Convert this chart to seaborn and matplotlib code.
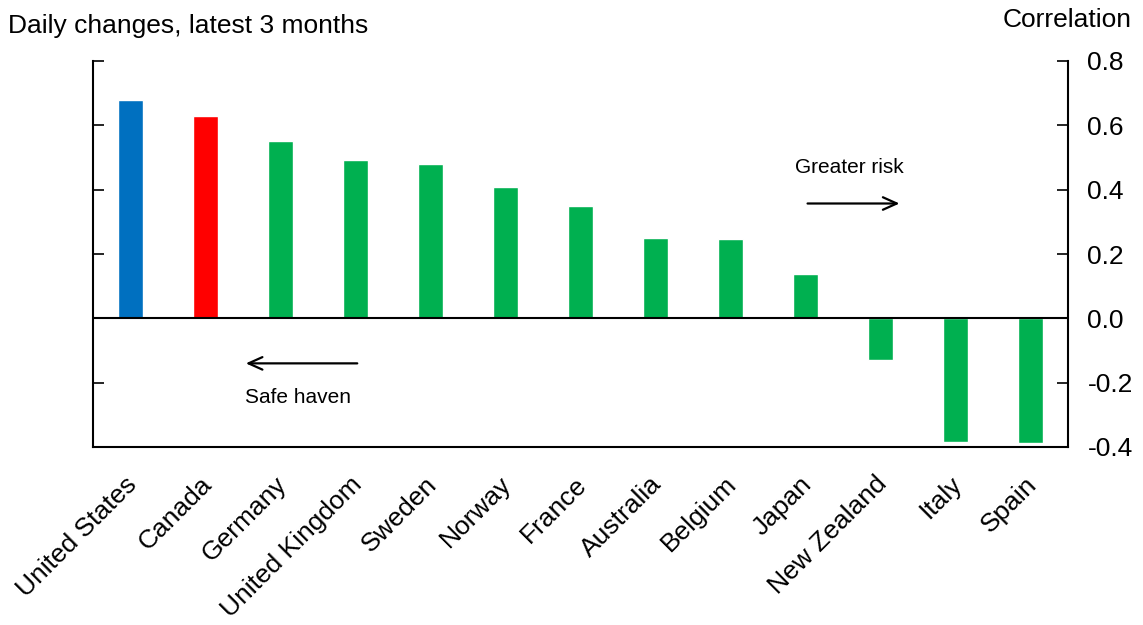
import matplotlib
matplotlib.use("Agg")
import matplotlib.pyplot as plt
import matplotlib.transforms as mtransforms
import seaborn as sns
import pandas as pd

countries = ["United States", "Canada", "Germany", "United Kingdom", "Sweden", "Norway",
             "France", "Australia", "Belgium", "Japan", "New Zealand", "Italy", "Spain"]
correlation = [0.678, 0.628, 0.550, 0.491, 0.479, 0.407, 0.348, 0.249, 0.246, 0.137,
               -0.131, -0.385, -0.389]
group = ["us", "ca"] + ["other"] * 11
palette = {"us": "#0070C0", "ca": "#FF0000", "other": "#00B050"}

df = pd.DataFrame({"Country": countries, "Correlation": correlation, "Group": group})

sns.set_style("white")
plt.rcParams["font.family"] = ["Liberation Sans", "DejaVu Sans"]
plt.rcParams["text.color"] = "black"
plt.rcParams["xtick.color"] = "black"
plt.rcParams["ytick.color"] = "black"

fig = plt.figure(figsize=(11.43, 6.25), dpi=100)
ax = fig.add_axes([0.0814, 0.2848, 0.8530, 0.6176])

sns.barplot(data=df, x="Country", y="Correlation", hue="Group", palette=palette,
            dodge=False, width=0.33, legend=False, ax=ax, saturation=1)

ax.set_ylim(-0.4, 0.8)
ax.set_xlim(-0.5, len(countries) - 0.5)
ax.set_xlabel("")
ax.set_ylabel("")
ax.axhline(0, color="black", linewidth=1.5)

yticks = [-0.4, -0.2, 0.0, 0.2, 0.4, 0.6, 0.8]
ax.yaxis.tick_right()
ax.set_yticks(yticks)
ax.set_yticklabels([f"{v:.1f}" for v in yticks])
ax.tick_params(axis="y", which="both", left=True, right=True, direction="in",
               length=8, width=1.2, labelsize=19, pad=14)
ax.tick_params(axis="x", length=0, labelsize=19, pad=18)
shift = mtransforms.ScaledTranslation(-6 / 100, 0, fig.dpi_scale_trans)
for lab in ax.get_xticklabels():
    lab.set_rotation(45)
    lab.set_ha("right")
    lab.set_rotation_mode("anchor")
    lab.set_transform(lab.get_transform() + shift)

for s in ["left", "right", "bottom"]:
    ax.spines[s].set_visible(True)
    ax.spines[s].set_color("black")
    ax.spines[s].set_linewidth(1.5)
ax.spines["top"].set_visible(False)

# direction arrows
ax.annotate("", xy=(10.29, 0.357), xytext=(8.99, 0.357),
            arrowprops=dict(arrowstyle="->,head_length=1.0,head_width=0.45", color="black", lw=1.6))
ax.text(8.86, 0.469, "Greater risk", fontsize=15, ha="left", va="center")
ax.annotate("", xy=(1.5, -0.14), xytext=(3.06, -0.14),
            arrowprops=dict(arrowstyle="->,head_length=1.0,head_width=0.45", color="black", lw=1.6))
ax.text(2.23, -0.246, "Safe haven", fontsize=15, ha="center", va="center")

fig.text(0.007, 0.958, "Daily changes, latest 3 months", fontsize=19, ha="left", va="center")
fig.text(0.99, 0.968, "Correlation", fontsize=19, ha="right", va="center")

fig.savefig("out.png", dpi=100)
